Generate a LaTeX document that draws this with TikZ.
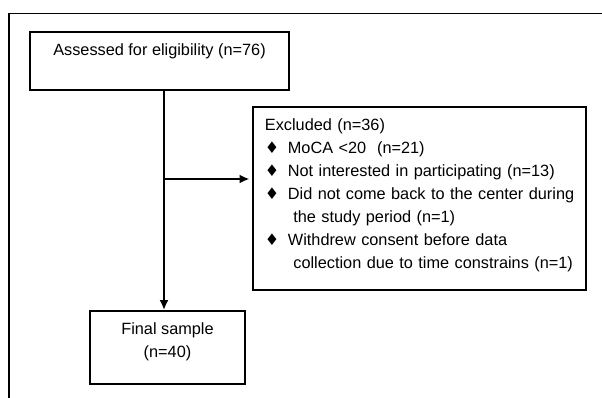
\documentclass[tikz,border=0pt]{standalone}
\usepackage{fontspec}
\setmainfont{Liberation Sans}
\newfontfamily\dingfont{DejaVu Sans}
\usetikzlibrary{arrows.meta, positioning, calc}
\newcommand{\itm}[1]{\mbox{\makebox[23pt][l]{{\dingfont\fontsize{16}{23}\selectfont ♦}}#1}}
\newcommand{\cont}[1]{\mbox{\hspace*{28.5pt}#1}}

\begin{document}
\begin{tikzpicture}[x=1pt, y=-1pt,
    box/.style={draw, line width=1.8pt, inner sep=0pt, font=\fontsize{16.3}{23}\selectfont},
    flow/.style={line width=2pt, -{Latex[length=10pt, width=9pt]}}]
        \useasboundingbox (0,0) rectangle (602,398);
        % outer frame
        \draw [line width=1.2pt] (9,398) -- (9,13.5) -- (602,13.5);

        \node[box, minimum width=259pt, minimum height=58pt] (assess) at (159.5, 61) {Assessed for eligibility (n=76)\rule[-22pt]{0pt}{22pt}};
        \node[box, anchor=north west, text width=309pt, inner xsep=12pt, minimum height=183pt, align=left] (excl) at (252, 106) {Excluded (n=36)\\%
            \itm{MoCA <20\ \ (n=21)}\\%
            \itm{Not interested in participating (n=13)}\\%
            \itm{Did not come back to the center during}\\%
            \cont{the study period (n=1)}\\%
            \itm{Withdrew consent before data}\\%
            \cont{collection due to time constrains (n=1)}\rule[-9pt]{0pt}{9pt}};
        \node[box, minimum width=155pt, minimum height=73pt, align=center] (final) at (167.5, 347.5) {Final sample\\(n=40)\rule[-15pt]{0pt}{15pt}};

        \coordinate (split) at (164, 179);
        \draw [flow] (split |- assess.south) -- (split |- final.north);
        \draw [flow, shorten >=2.5pt] (split) -- (split -| excl.west);
\end{tikzpicture}
\end{document}
